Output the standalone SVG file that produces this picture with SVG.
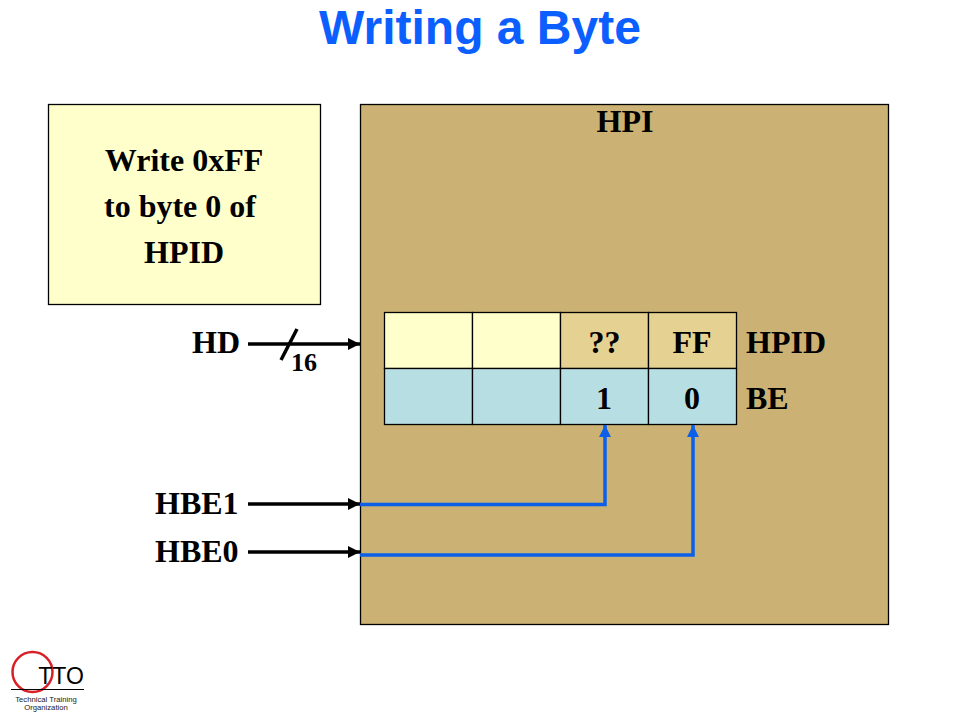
<svg xmlns="http://www.w3.org/2000/svg" width="960" height="720" viewBox="0 0 960 720">
<style>
.t{font-family:"Liberation Serif","Times New Roman",serif;font-weight:700;font-size:32px;fill:#000}
.m{text-anchor:middle}
.c{stroke:#000;stroke-width:1.3}
.k{fill:none;stroke:#000;stroke-width:3.500}
.b{fill:none;stroke:#0b5fe8;stroke-width:3.500}
</style>
<defs>
<marker id="ak" markerUnits="userSpaceOnUse" markerWidth="14" markerHeight="14" refX="12" refY="6" orient="auto"><path d="M0 0L12 6L0 12z" fill="#000"/></marker>
<marker id="ab" markerUnits="userSpaceOnUse" markerWidth="14" markerHeight="14" refX="12" refY="6" orient="auto"><path d="M0 0L12 6L0 12z" fill="#0b5fe8"/></marker>
</defs>
<rect width="960" height="720" fill="#fff"/>
<text id="title" x="480" y="44" text-anchor="middle" style="font-family:'Liberation Sans',Arial,sans-serif;font-weight:700;font-size:48px;fill:#0b5fff">Writing a Byte</text>
<g id="note">
<rect x="48.500" y="104.500" width="272" height="200" fill="#ffffcc" class="c"/>
<text class="t m" x="184" y="171">Write 0xFF</text>
<text class="t" x="104" y="217">to byte 0 of</text>
<text class="t m" x="184" y="263">HPID</text>
</g>
<g id="hpi">
<rect x="360.500" y="104.500" width="528" height="520" fill="#cbb173" class="c"/>
<text class="t m" x="625" y="132">HPI</text>
</g>
<g id="hpid-row">
<rect x="384.500" y="312.500" width="88" height="56" fill="#ffffcc" class="c"/>
<rect x="472.500" y="312.500" width="88" height="56" fill="#ffffcc" class="c"/>
<rect x="560.500" y="312.500" width="88" height="56" fill="#e5d192" class="c"/>
<rect x="648.500" y="312.500" width="88" height="56" fill="#e5d192" class="c"/>
<text class="t m" x="604.500" y="353">??</text>
<text class="t m" x="692" y="353">FF</text>
<text class="t" x="746" y="353">HPID</text>
</g>
<g id="be-row">
<rect x="384.500" y="368.500" width="88" height="56" fill="#b7dfe3" class="c"/>
<rect x="472.500" y="368.500" width="88" height="56" fill="#b7dfe3" class="c"/>
<rect x="560.500" y="368.500" width="88" height="56" fill="#b7dfe3" class="c"/>
<rect x="648.500" y="368.500" width="88" height="56" fill="#b7dfe3" class="c"/>
<text class="t m" x="604" y="409">1</text>
<text class="t m" x="692" y="409">0</text>
<text class="t" x="746" y="409">BE</text>
</g>
<g id="signals">
<text class="t" x="192" y="353">HD</text>
<text class="t" style="font-size:26px" x="291" y="371">16</text>
<text class="t" x="155" y="514">HBE1</text>
<text class="t" x="155" y="562">HBE0</text>
</g>
<g id="connectors">
<path class="k" d="M248 344H360" marker-end="url(#ak)"/>
<path class="k" d="M297 329L281 360"/>
<path class="k" d="M248 504H360" marker-end="url(#ak)"/>
<path class="k" d="M248 552H360" marker-end="url(#ak)"/>
<path class="b" d="M360 504.500H605V425" marker-end="url(#ab)"/>
<path class="b" d="M360 555H693V425" marker-end="url(#ab)"/>
</g>
<g id="logo">
<circle cx="32.500" cy="672" r="20" fill="none" stroke="#d92027" stroke-width="2.500"/>
<path d="M11 689.500H84" stroke="#000" stroke-width="1"/>
<text x="61" y="684" text-anchor="middle" style="font-family:'Liberation Sans',Arial,sans-serif;font-size:23px;fill:#000">TTO</text>
<text x="46" y="702" text-anchor="middle" style="font-family:'Liberation Sans',Arial,sans-serif;font-size:7.700px;fill:#222">Technical Training</text>
<text x="46" y="710" text-anchor="middle" style="font-family:'Liberation Sans',Arial,sans-serif;font-size:7.700px;fill:#222">Organization</text>
</g>
</svg>
